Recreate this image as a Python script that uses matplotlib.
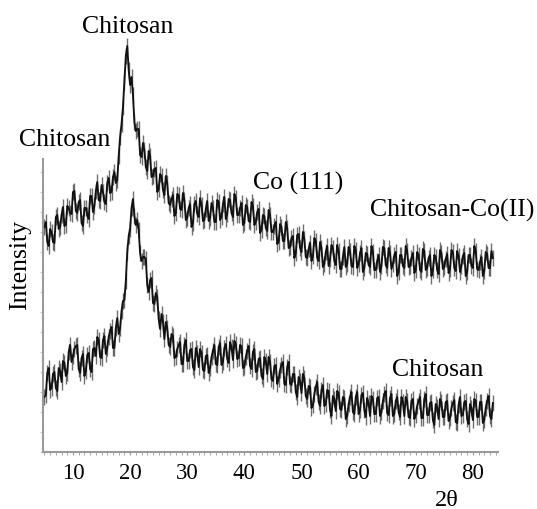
import numpy as np
import matplotlib
matplotlib.use("Agg")
import matplotlib.pyplot as plt
from matplotlib.ticker import MultipleLocator

# 2theta grid, 0.25 deg steps (5.0 .. 83.5)
two_theta = np.arange(5.0, 83.51, 0.25)

# intensity (a.u.), chitosan-Co(II) pattern (upper trace)
chitosan_co = [
    225, 230, 210, 206, 223, 220, 210, 209, 235, 237,
    223, 225, 237, 245, 226, 227, 246, 244, 239, 238,
    260, 261, 241, 239, 250, 252, 229, 226, 244, 244,
    237, 233, 256, 256, 240, 246, 261, 270, 252, 251,
    267, 260, 250, 248, 269, 274, 259, 260, 275, 280,
    269, 272, 296, 315, 328, 345, 370, 396, 406, 382,
    367, 375, 357, 330, 321, 323, 323, 297, 295, 309,
    302, 285, 281, 301, 296, 275, 276, 283, 284, 260,
    263, 278, 276, 262, 257, 276, 269, 249, 247, 253,
    257, 236, 239, 258, 257, 243, 242, 259, 252, 232,
    234, 244, 248, 225, 229, 248, 251, 238, 235, 254,
    247, 231, 232, 243, 251, 231, 234, 249, 244, 230,
    230, 252, 250, 232, 235, 248, 255, 233, 238, 253,
    252, 239, 235, 258, 254, 237, 237, 244, 249, 227,
    229, 247, 245, 231, 230, 250, 246, 227, 230, 240,
    243, 219, 222, 237, 236, 224, 221, 242, 237, 220,
    220, 226, 230, 208, 210, 228, 225, 211, 211, 230,
    224, 204, 205, 214, 216, 194, 199, 217, 218, 204,
    200, 220, 213, 195, 194, 203, 209, 191, 196, 214,
    211, 194, 191, 210, 204, 185, 188, 200, 206, 186,
    193, 207, 204, 191, 187, 207, 201, 183, 183, 195,
    205, 185, 188, 205, 201, 186, 185, 206, 202, 184,
    188, 199, 204, 180, 184, 199, 198, 187, 185, 206,
    200, 182, 182, 191, 197, 180, 186, 205, 204, 187,
    184, 204, 199, 183, 188, 197, 200, 176, 180, 197,
    197, 186, 184, 206, 201, 185, 186, 194, 199, 179,
    182, 200, 197, 182, 180, 203, 201, 182, 184, 194,
    197, 176, 182, 197, 195, 182, 178, 202, 199, 183,
    185, 193, 198, 179, 183, 202, 200, 184, 181, 201,
    196, 180, 186, 196, 199, 176, 180, 197, 197, 186,
    184, 206, 201, 183, 182, 190, 195, 176, 181, 200,
    198, 184, 184, 201, 194,
]

# intensity of pure chitosan (lower trace)
chitosan = [
    55, 57, 79, 84, 62, 64, 78, 80, 64, 61,
    84, 81, 70, 91, 89, 76, 79, 100, 107, 90,
    96, 103, 106, 107, 83, 79, 94, 98, 76, 81,
    97, 99, 83, 80, 103, 104, 96, 115, 112, 95,
    94, 112, 116, 98, 104, 115, 121, 125, 104, 104,
    124, 134, 118, 124, 141, 151, 152, 171, 200, 216,
    223, 244, 253, 236, 227, 232, 222, 199, 191, 195,
    195, 193, 167, 160, 172, 174, 149, 148, 159, 155,
    133, 123, 138, 130, 113, 130, 124, 107, 105, 118,
    116, 94, 95, 103, 107, 110, 88, 88, 107, 112,
    91, 91, 102, 103, 85, 82, 104, 99, 85, 103,
    99, 82, 81, 96, 97, 79, 84, 95, 101, 107,
    88, 87, 105, 109, 87, 90, 104, 108, 93, 89,
    110, 105, 92, 111, 108, 93, 94, 107, 106, 84,
    85, 95, 101, 106, 86, 83, 100, 103, 80, 81,
    93, 94, 76, 73, 95, 91, 78, 95, 90, 73,
    71, 86, 87, 68, 73, 82, 87, 90, 68, 67,
    85, 90, 68, 67, 78, 78, 60, 55, 75, 71,
    59, 78, 74, 56, 53, 66, 65, 44, 47, 58,
    65, 70, 50, 46, 62, 67, 46, 48, 62, 61,
    42, 36, 56, 53, 41, 61, 59, 43, 42, 55,
    54, 33, 36, 48, 55, 60, 40, 38, 55, 60,
    38, 42, 57, 59, 42, 35, 54, 49, 36, 56,
    53, 38, 38, 54, 55, 36, 40, 51, 58, 61,
    39, 37, 54, 58, 36, 38, 51, 55, 40, 35,
    55, 50, 36, 55, 51, 35, 34, 51, 53, 33,
    37, 46, 51, 55, 34, 34, 53, 58, 37, 37,
    49, 50, 32, 27, 48, 45, 33, 53, 50, 35,
    35, 50, 51, 31, 34, 44, 49, 52, 30, 29,
    47, 55, 36, 37, 50, 51, 33, 28, 48, 44,
    32, 53, 51, 35, 35, 50, 50, 29, 32, 44,
    51, 56, 36, 33, 49,
]

xticks = [10, 20, 30, 40, 50, 60, 70, 80]

serif = ["Liberation Serif", "DejaVu Serif"]
plt.rcParams["font.family"] = serif

fig = plt.figure(figsize=(5.37, 5.10), dpi=100)
ax = fig.add_axes([43 / 537, 57 / 510, 455 / 537, 293 / 510])

for ys in (chitosan_co, chitosan):
    # short vertical strokes at every point give the grey noisy fringe
    ax.plot(two_theta, ys, ls="none", marker="|", ms=12, mew=1.0,
            color="#3e3e3e", alpha=0.75, clip_on=False)
    ax.plot(two_theta, ys, color="#111111", lw=1.35, clip_on=False)

ax.set_xlim(4.75, 84.4)
ax.set_ylim(0, 293)
ax.set_xticks(xticks)
ax.xaxis.set_minor_locator(MultipleLocator(1))
ax.yaxis.set_major_locator(MultipleLocator(20))
ax.set_yticklabels([])
ax.tick_params(axis="x", which="both", length=2, color="#999999",
               labelsize=16.5, pad=5)
ax.tick_params(axis="y", which="both", length=2, color="#cccccc")

for side in ("top", "right"):
    ax.spines[side].set_visible(False)
for side in ("left", "bottom"):
    ax.spines[side].set_color("#9a9a9a")
    ax.spines[side].set_linewidth(1.5)

fs = 18.5
ax.text(19.6, 426, "Chitosan", fontsize=fs, ha="center", va="center", clip_on=False)
ax.text(8.6, 313, "Chitosan", fontsize=fs, ha="center", va="center", clip_on=False)
ax.text(49.4, 270, "Co (111)", fontsize=fs, ha="center", va="center", clip_on=False)
ax.text(76.3, 243, "Chitosan-Co(II)", fontsize=fs, ha="center", va="center", clip_on=False)
ax.text(73.9, 83, "Chitosan", fontsize=fs, ha="center", va="center", clip_on=False)
ax.text(75.5, -53, "2θ", fontsize=17.5, ha="center", va="baseline", clip_on=False)
fig.text(20 / 537, 1 - 265 / 510, "Intensity", fontsize=fs, rotation=90,
         ha="center", va="center")

fig.savefig("out.png", dpi=100)
